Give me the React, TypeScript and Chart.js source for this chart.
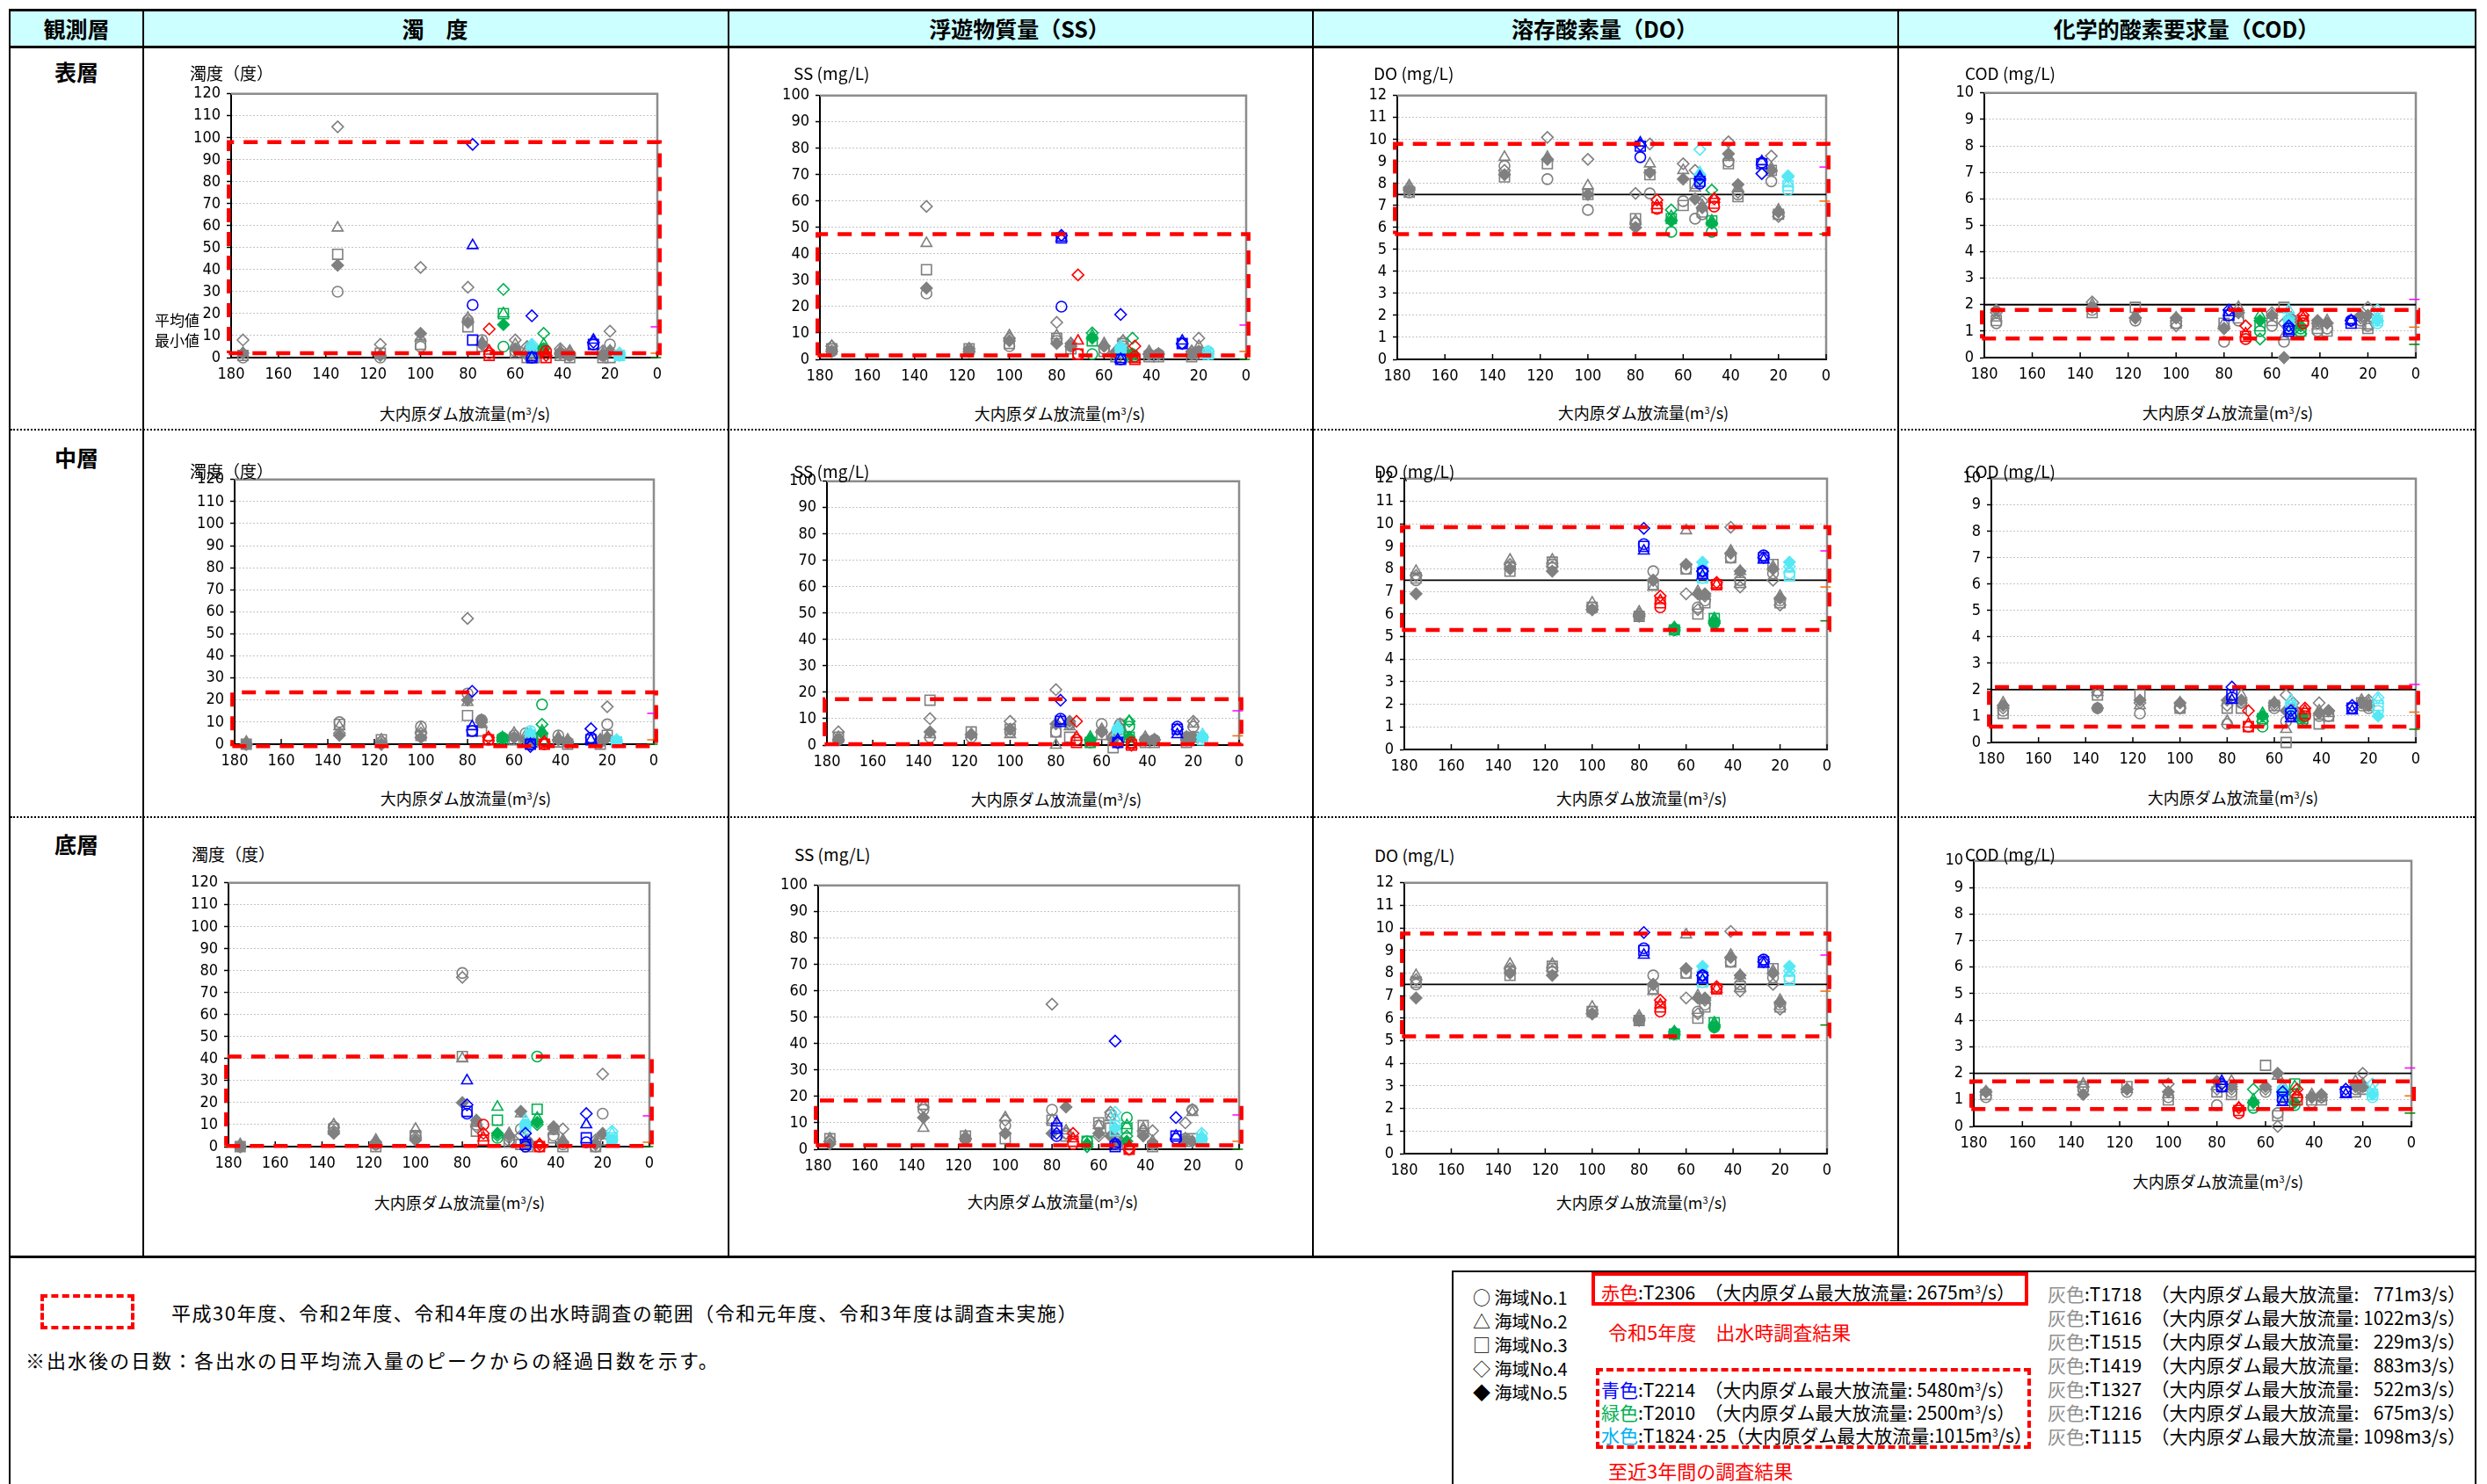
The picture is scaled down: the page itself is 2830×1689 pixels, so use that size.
import React, { useEffect, useRef } from 'react';
import { Chart, registerables } from 'chart.js';
Chart.register(...registerables);

// ---------------- data ----------------
// discharge (m3/s) of each survey day, per colour group
const GRAY_X = [175, 135, 117, 100, 80, 74, 60, 55, 52, 41, 37, 23, 20];
const BLUE_X = [78, 53, 27];
const RED_X = [71, 47];
const GREEN_X = [65, 48];
const CYAN_X = [53, 16];
const RANGE_X = [181, -1];
const STD_X = [180, 0];
const MARK_X = 0.6;

const STATIONS = ['海域No.1', '海域No.2', '海域No.3', '海域No.4', '海域No.5'];
const STATION_SYMBOLS = ['○', '△', '□', '◇', '◆'];

const DO_STD = 7.5;
const COD_STD = 2;

// rows: No.1 .. No.5 ; columns follow *_X arrays (null = not shown)
// ---- 表層 濁度
const S_TURB_GRAY = [
  [0, 30, 0, 5, 17, 8, 3, 2, 1, 2, 1, 1, 6],
  [2, 59, 1, 9, 18, 7, 6, 4, 2, 3, 3, 2, 3],
  [1, 47, 2, 6, 14, 5, 2, 0, 0, 1, 0, 0, 0],
  [8, 105, 6, 41, 32, 6, 8, 5, 3, 4, 2, 3, 12],
  [2, 42, 1, 11, 16, 6, 4, 1, 2, 2, 1, 1, 3],
];
const S_TURB_BLUE = [[24, 0, 6], [51, 0, 8], [8, 0, 6], [97, 19, 7], [null, null, null]];
const S_TURB_RED = [[2, 3], [3, 2], [1, 0], [13, 1], [null, null]];
const S_TURB_GREEN = [[5, 4], [20, 6], [20, 3], [31, 11], [15, 4]];
const S_TURB_CYAN = [[4, 1], [5, 1], [3, 1], [6, 2], [5, 1]];
const S_TURB_RANGE = [2, 98];
const S_TURB_MARKS = [14, 2, 0];

// ---- 表層 SS
const S_SS_GRAY = [
  [3, 25, 3, 5, 7, 5, 4, 2, 5, 2, 2, 2, 3],
  [5, 44, 4, 9, 9, 6, 6, 3, 7, 3, 2, 3, 5],
  [4, 34, 4, 6, 8, 4, 3, 1, 6, 1, 1, 1, 2],
  [5, 58, 4, 8, 14, 6, 5, 3, 7, 2, 2, 3, 8],
  [3, 27, 3, 7, 6, 5, 5, 2, 4, 2, 2, 2, 3],
];
const S_SS_BLUE = [[20, 0, 6], [46, 0, 7], [46, 0, 6], [47, 17, 6], [null, null, null]];
const S_SS_RED = [[2, 1], [7, 0], [2, 0], [32, 5], [null, null]];
const S_SS_GREEN = [[2, 2], [9, 1], [7, 1], [10, 8], [8, 2]];
const S_SS_CYAN = [[4, 3], [4, 2], [3, 2], [5, 3], [4, 2]];
const S_SS_RANGE = [1.5, 47.5];
const S_SS_MARKS = [13, 3, 0];

// ---- 表層 DO
const S_DO_GRAY = [
  [7.6, 8.8, 8.2, 6.8, 6.2, 7.55, 7.2, 6.4, 6.6, 9.0, 7.5, 8.1, 6.6],
  [7.9, 9.2, 9.2, 7.9, 6.3, 8.9, 8.6, 7.8, 7.0, 9.2, 7.8, 8.7, 6.8],
  [7.6, 8.3, 8.9, 7.5, 6.4, 8.4, 7.0, 8.0, 6.7, 8.9, 7.4, 8.6, 6.6],
  [7.8, 8.6, 10.1, 9.1, 7.55, 9.8, 8.9, 8.6, 7.2, 9.9, 7.6, 9.25, 6.5],
  [7.7, 8.4, 9.1, 7.5, 6.0, 8.5, 8.2, 7.3, 6.9, 9.35, 7.95, 8.6, 6.7],
];
const S_DO_BLUE = [[9.2, 8.0, 8.95], [9.85, 8.3, 9.0], [9.7, 8.1, 8.9], [9.75, 8.2, 8.45], [null, null, null]];
const S_DO_RED = [[6.85, 6.95], [7.0, 7.3], [6.9, 7.1], [7.25, 7.3], [null, null]];
const S_DO_GREEN = [[5.8, 5.8], [6.5, 6.3], [6.4, 6.3], [6.8, 7.7], [6.3, 6.2]];
const S_DO_CYAN = [[8.3, 7.7], [8.5, 8.0], [8.2, 7.9], [9.55, 8.35], [8.4, 8.3]];
const S_DO_RANGE = [5.7, 9.8];
const S_DO_MARKS = [8.75, 7.2, 5.7];

// ---- 表層 COD
const S_COD_GRAY = [
  [1.3, 1.8, 1.4, 1.3, 0.6, 1.4, 1.2, 0.6, 1.3, 1.0, 1.1, 1.4, 1.2],
  [1.5, 2.0, 1.6, 1.5, 1.3, 1.9, 1.6, 0.8, 1.5, 1.2, 1.4, 1.5, 1.2],
  [1.4, 1.7, 1.9, 1.3, 1.3, 1.5, 1.4, 1.9, 1.4, 1.1, 1.0, 1.3, 1.1],
  [1.7, 2.1, 1.5, 1.2, 1.1, 1.7, 1.7, 1.3, 1.4, 1.3, 1.3, 1.5, 1.9],
  [1.8, 1.9, 1.5, 1.5, 1.1, 1.7, 1.6, 0.0, 1.5, 1.4, 1.3, 1.6, 1.6],
];
const S_COD_BLUE = [[1.6, 1.1, 1.4], [1.7, 1.0, 1.4], [1.6, 1.0, 1.3], [1.8, 1.2, 1.4], [null, null, null]];
const S_COD_RED = [[0.7, 1.3], [0.9, 1.5], [0.8, 1.4], [1.2, 1.6], [null, null]];
const S_COD_GREEN = [[1.0, 1.1], [1.6, 1.2], [1.2, 1.0], [0.7, 0.9], [1.4, 1.2]];
const S_COD_CYAN = [[1.2, 1.3], [1.8, 1.5], [1.3, 1.4], [1.5, 1.8], [1.4, 1.4]];
const S_COD_RANGE = [0.72, 1.8];
const S_COD_MARKS = [2.2, 1.15, 0.5];

// ---- 中層 濁度
const M_TURB_GRAY = [
  [0, 10, 1, 8, 23, 11, 4, 5, 2, 4, 1, 1, 9],
  [1, 8, 2, 7, 19, 9, 5, 4, 3, 3, 2, 2, 3],
  [0, 9, 2, 4, 13, 6, 2, 1, 1, 1, 0, 0, 4],
  [0, 5, 0, 5, 57, 10, 3, 2, 2, 2, 1, 1, 17],
  [0, 4, 0, 3, 20, 11, 3, 2, 2, 2, 1, 2, 3],
];
const M_TURB_BLUE = [[6, 0, 3], [8, 0, 2], [6, 0, 2], [24, -1, 7], [null, null, null]];
const M_TURB_RED = [[2, 0], [3, 1], [2, 0], [3, 1], [null, null]];
const M_TURB_GREEN = [[3, 18], [3, 6], [2, 2], [2, 9], [3, 5]];
const M_TURB_CYAN = [[6, 1], [5, 1], [4, 1], [5, 2], [5, 1]];
const M_TURB_RANGE = [-0.9, 23.5];
const M_TURB_MARKS = [14, 2, 0];

// ---- 中層 SS
const M_SS_GRAY = [
  [2, 3, 3, 5, 5, 8, 8, 3, 8, 2, 2, 3, 7],
  [3, 4, 4, 4, 0, 7, 6, 4, 7, 3, 2, 3, 8],
  [3, 17, 5, 6, 5, 3, 4, -1, 6, 1, 1, 1, 3],
  [5, 10, 4, 9, 21, 8, 5, 3, 8, 2, 2, 2, 9],
  [2, 5, 4, 6, 8, 9, 5, 2, 6, 2, 2, 3, 3],
];
const M_SS_BLUE = [[10, 1, 7], [9, 2, 4], [9, 1, 6], [17, 1, 6], [null, null, null]];
const M_SS_RED = [[2, 1], [3, 0], [1, 0], [9, 0], [null, null]];
const M_SS_GREEN = [[1, 7], [3, 9], [1, 3], [2, 9], [2, 3]];
const M_SS_CYAN = [[6, 3], [7, 4], [5, 2], [6, 3], [6, 3]];
const M_SS_RANGE = [0.3, 17.4];
const M_SS_MARKS = [13, 3.5, 0];

// ---- 中層 DO
const M_DO_GRAY = [
  [7.5, 8.1, 8.2, 6.3, 5.9, 7.9, 8.0, 6.3, 6.6, 8.5, 7.5, 7.8, 6.6],
  [7.9, 8.4, 8.4, 6.5, 6.1, 7.2, 9.7, 7.0, 6.8, 8.8, 7.9, 8.1, 6.8],
  [7.6, 7.9, 8.3, 6.3, 5.9, 7.3, 8.0, 6.0, 6.5, 8.5, 7.4, 8.2, 6.5],
  [7.7, 8.2, 8.1, 6.2, 6.0, 7.5, 6.9, 6.2, 6.8, 9.85, 7.2, 7.5, 6.4],
  [6.9, 8.0, 7.9, 6.2, 5.9, 7.5, 8.2, 6.9, 6.9, 8.7, 7.9, 8.0, 6.7],
];
const M_DO_BLUE = [[9.1, 7.9, 8.6], [8.8, 7.7, 8.4], [9.0, 7.8, 8.5], [9.8, 7.9, 8.5], [null, null, null]];
const M_DO_RED = [[6.3, 7.3], [6.6, 7.3], [6.5, 7.3], [6.8, 7.4], [null, null]];
const M_DO_GREEN = [[5.3, 5.6], [5.4, 5.8], [5.3, 5.8], [5.3, 5.7], [5.4, 5.6]];
const M_DO_CYAN = [[7.6, 7.8], [8.2, 8.0], [7.6, 7.7], [7.9, 8.1], [8.3, 8.3]];
const M_DO_RANGE = [5.3, 9.85];
const M_DO_MARKS = [8.8, 7.2, 5.7];

// ---- 中層 COD
const M_COD_GRAY = [
  [1.2, 1.3, 1.1, 1.3, 0.7, 1.5, 1.3, 0.8, 1.1, 1.0, 1.0, 1.4, 1.3],
  [1.5, 1.9, 1.4, 1.5, 0.8, 1.8, 1.5, 0.5, 1.3, 1.2, 1.1, 1.6, 1.5],
  [1.1, 1.8, 1.8, 1.3, 1.3, 1.3, 1.4, 0.0, 1.0, 0.7, 1.0, 1.5, 1.4],
  [1.3, 1.9, 1.5, 1.3, 1.4, 1.5, 1.4, 1.8, 1.5, 1.5, 1.2, 1.5, 1.6],
  [1.4, 1.3, 1.6, 1.5, 1.6, 1.6, 1.5, 1.2, 1.3, 1.1, 1.2, 1.5, 1.4],
];
const M_COD_BLUE = [[1.7, 1.0, 1.3], [1.6, 0.9, 1.2], [1.8, 1.1, 1.3], [2.1, 1.2, 1.4], [null, null, null]];
const M_COD_RED = [[0.6, 1.0], [0.7, 1.2], [0.6, 1.1], [1.2, 1.3], [null, null]];
const M_COD_GREEN = [[0.6, 0.8], [1.1, 1.0], [0.9, 0.9], [0.8, 1.0], [1.0, 0.9]];
const M_COD_CYAN = [[1.3, 1.2], [1.6, 1.6], [1.4, 1.4], [1.4, 1.7], [1.2, 1.0]];
const M_COD_RANGE = [0.6, 2.1];
const M_COD_MARKS = [2.2, 1.15, 0.5];

// ---- 底層 濁度
const B_TURB_GRAY = [
  [0, 9, 1, 5, 79, 10, 3, 8, 2, 5, 1, 0, 15],
  [1, 10, 3, 8, 40, 11, 6, 15, 3, 7, 3, 2, 5],
  [0, 8, 0, 5, 41, 7, 2, 1, 0, 4, 0, 0, 3],
  [0, 7, 1, 4, 77, 9, 4, 5, 2, 8, 8, 3, 33],
  [0, 6, 2, 3, 20, 12, 5, 16, 1, 9, 2, 1, 6],
];
const B_TURB_BLUE = [[15, 0, 2], [30, 2, 10], [16, 1, 4], [19, 6, 15], [null, null, null]];
const B_TURB_RED = [[10, 0], [4, 1], [3, 0], [6, 1], [null, null]];
const B_TURB_GREEN = [[4, 41], [18, 13], [12, 17], [5, 10], [6, 11]];
const B_TURB_CYAN = [[10, 3], [12, 6], [8, 4], [9, 7], [10, 3]];
const B_TURB_RANGE = [0.3, 41];
const B_TURB_MARKS = [14, 2, 0];

// ---- 底層 SS
const B_SS_GRAY = [
  [3, 15, 4, 9, 15, 6, 9, 13, 3, 6, 2, 4, 15],
  [4, 8, 5, 12, 11, 7, 9, 12, 4, 8, 3, 4, 14],
  [4, 17, 5, 4, 11, 5, 10, 8, 2, 9, 1, 3, 4],
  [3, 16, 4, 11, 55, 6, 5, 14, 3, 7, 7, 10, 15],
  [2, 12, 4, 6, 6, 16, 6, 5, 2, 5, 2, 3, 3],
];
const B_SS_BLUE = [[5, 2, 4], [10, 2, 5], [8, 1, 5], [6, 41, 12], [null, null, null]];
const B_SS_RED = [[2, 0], [4, 1], [3, 0], [6, 0], [null, null]];
const B_SS_GREEN = [[3, 12], [2, 9], [3, 8], [1, 5], [2, 3]];
const B_SS_CYAN = [[9, 4], [12, 5], [7, 3], [14, 6], [8, 4]];
const B_SS_RANGE = [1.5, 18.5];
const B_SS_MARKS = [13, 3, 0];

// ---- 底層 DO
const B_DO_GRAY = [
  [7.5, 8.1, 8.2, 6.3, 5.9, 7.9, 8.0, 6.3, 6.6, 8.5, 7.5, 7.8, 6.6],
  [7.9, 8.4, 8.4, 6.5, 6.1, 7.2, 9.7, 7.0, 6.8, 8.8, 7.9, 8.1, 6.8],
  [7.6, 7.9, 8.3, 6.3, 5.9, 7.3, 8.0, 6.0, 6.5, 8.5, 7.4, 8.2, 6.5],
  [7.7, 8.2, 8.1, 6.2, 6.0, 7.5, 6.9, 6.2, 6.8, 9.85, 7.2, 7.5, 6.4],
  [6.9, 8.0, 7.9, 6.2, 5.9, 7.5, 8.2, 6.9, 6.9, 8.7, 7.9, 8.0, 6.7],
];
const B_DO_BLUE = [[9.1, 7.9, 8.6], [8.8, 7.7, 8.4], [9.0, 7.8, 8.5], [9.8, 7.9, 8.5], [null, null, null]];
const B_DO_RED = [[6.3, 7.3], [6.6, 7.3], [6.5, 7.3], [6.8, 7.4], [null, null]];
const B_DO_GREEN = [[5.3, 5.6], [5.4, 5.8], [5.3, 5.8], [5.3, 5.7], [5.4, 5.6]];
const B_DO_CYAN = [[7.6, 7.8], [8.2, 8.0], [7.6, 7.7], [7.9, 8.1], [8.3, 8.3]];
const B_DO_RANGE = [5.2, 9.75];
const B_DO_MARKS = [8.8, 7.2, 5.7];

// ---- 底層 COD
const B_COD_GRAY = [
  [1.1, 1.4, 1.3, 1.1, 0.8, 1.3, 1.3, 0.5, 1.1, 0.9, 1.1, 1.4, 1.5],
  [1.3, 1.6, 1.4, 1.2, 1.5, 1.7, 1.5, 1.9, 1.4, 1.2, 1.1, 1.7, 1.6],
  [1.2, 1.5, 1.5, 1.0, 1.3, 1.2, 2.3, 0.4, 1.2, 1.0, 1.0, 1.3, 1.4],
  [1.3, 1.5, 1.4, 1.6, 1.4, 1.4, 1.4, 0.0, 1.3, 1.1, 1.1, 1.5, 2.0],
  [1.3, 1.2, 1.4, 1.3, 1.7, 1.5, 1.5, 2.0, 1.3, 1.1, 1.2, 1.5, 1.5],
];
const B_COD_BLUE = [[1.5, 1.0, 1.3], [1.7, 0.9, 1.2], [1.5, 1.1, 1.3], [1.6, 1.3, 1.4], [null, null, null]];
const B_COD_RED = [[0.5, 1.1], [0.7, 1.2], [0.6, 1.0], [0.7, 1.4], [null, null]];
const B_COD_GREEN = [[0.7, 0.8], [1.0, 1.5], [0.8, 1.6], [1.4, 1.2], [0.9, 0.9]];
const B_COD_CYAN = [[1.4, 1.1], [1.5, 1.4], [1.3, 1.2], [1.3, 1.6], [1.2, 1.2]];
const B_COD_RANGE = [0.65, 1.7];
const B_COD_MARKS = [2.2, 1.15, 0.5];

// axis definitions
const TURB_AXIS = { max: 120, step: 10 };
const SS_AXIS = { max: 100, step: 10 };
const DO_AXIS = { max: 12, step: 1 };
const COD_AXIS = { max: 10, step: 1 };

const GRAY_EVENTS = [
  ['T1718', '771'], ['T1616', '1022'], ['T1515', '229'], ['T1419', '883'],
  ['T1327', '522'], ['T1216', '675'], ['T1115', '1098'],
];

// ---------------- styling ----------------
const JP = '"Noto Sans CJK JP", "Noto Sans", sans-serif';
const NARROW = '"Liberation Sans Narrow", "Arial Narrow", "DejaVu Sans Condensed", "Liberation Sans", sans-serif';
const C_GRAY = '#808080';
const C_BLUE = '#0000FF';
const C_RED = '#FF0000';
const C_GREEN = '#00B050';
const C_CYAN = '#55E8F5';
const MARK_COLORS = ['#FF00FF', '#FF6600', '#008000'];

const MARKERS = [
  { style: 'circle', r: 6, fill: false },
  { style: 'triangle', r: 7, fill: false },
  { style: 'rect', r: 8, fill: false },
  { style: 'rectRot', r: 6.5, fill: false },
  { style: 'rectRot', r: 6.5, fill: true },
];

const YW = 62, PT = 16, PR = 26, XH = 40;

type Spec = {
  gray: (number | null)[][]; blue: (number | null)[][]; red: (number | null)[][]; green: (number | null)[][]; cyan: (number | null)[][];
  range: number[]; marks: number[]; axis: { max: number; step: number }; std: number | null;
  yTitle: string; box: number[]; yt: number[]; xt: number[];
};

const PANELS: Spec[] = [
  { gray: S_TURB_GRAY, blue: S_TURB_BLUE, red: S_TURB_RED, green: S_TURB_GREEN, cyan: S_TURB_CYAN, range: S_TURB_RANGE, marks: S_TURB_MARKS, axis: TURB_AXIS, std: null, yTitle: '濁度（度）', box: [263, 105, 748, 407], yt: [216, 83], xt: [529, 470] },
  { gray: S_SS_GRAY, blue: S_SS_BLUE, red: S_SS_RED, green: S_SS_GREEN, cyan: S_SS_CYAN, range: S_SS_RANGE, marks: S_SS_MARKS, axis: SS_AXIS, std: null, yTitle: 'SS (mg/L)', box: [933, 107, 1418, 409], yt: [903, 83], xt: [1206, 470] },
  { gray: S_DO_GRAY, blue: S_DO_BLUE, red: S_DO_RED, green: S_DO_GREEN, cyan: S_DO_CYAN, range: S_DO_RANGE, marks: S_DO_MARKS, axis: DO_AXIS, std: DO_STD, yTitle: 'DO (mg/L)', box: [1590, 107, 2078, 409], yt: [1563, 83], xt: [1870, 469] },
  { gray: S_COD_GRAY, blue: S_COD_BLUE, red: S_COD_RED, green: S_COD_GREEN, cyan: S_COD_CYAN, range: S_COD_RANGE, marks: S_COD_MARKS, axis: COD_AXIS, std: COD_STD, yTitle: 'COD (mg/L)', box: [2258, 104, 2749, 407], yt: [2236, 83], xt: [2535, 469] },

  { gray: M_TURB_GRAY, blue: M_TURB_BLUE, red: M_TURB_RED, green: M_TURB_GREEN, cyan: M_TURB_CYAN, range: M_TURB_RANGE, marks: M_TURB_MARKS, axis: TURB_AXIS, std: null, yTitle: '濁度（度）', box: [267, 544, 744, 847], yt: [216, 536], xt: [530, 908] },
  { gray: M_SS_GRAY, blue: M_SS_BLUE, red: M_SS_RED, green: M_SS_GREEN, cyan: M_SS_CYAN, range: M_SS_RANGE, marks: M_SS_MARKS, axis: SS_AXIS, std: null, yTitle: 'SS (mg/L)', box: [941, 546, 1410, 848], yt: [903, 536], xt: [1202, 909] },
  { gray: M_DO_GRAY, blue: M_DO_BLUE, red: M_DO_RED, green: M_DO_GREEN, cyan: M_DO_CYAN, range: M_DO_RANGE, marks: M_DO_MARKS, axis: DO_AXIS, std: DO_STD, yTitle: 'DO (mg/L)', box: [1598, 543, 2079, 853], yt: [1564, 536], xt: [1868, 908] },
  { gray: M_COD_GRAY, blue: M_COD_BLUE, red: M_COD_RED, green: M_COD_GREEN, cyan: M_COD_CYAN, range: M_COD_RANGE, marks: M_COD_MARKS, axis: COD_AXIS, std: COD_STD, yTitle: 'COD (mg/L)', box: [2266, 543, 2749, 845], yt: [2236, 536], xt: [2541, 907] },

  { gray: B_TURB_GRAY, blue: B_TURB_BLUE, red: B_TURB_RED, green: B_TURB_GREEN, cyan: B_TURB_CYAN, range: B_TURB_RANGE, marks: B_TURB_MARKS, axis: TURB_AXIS, std: null, yTitle: '濁度（度）', box: [260, 1003, 739, 1305], yt: [218, 972], xt: [523, 1368] },
  { gray: B_SS_GRAY, blue: B_SS_BLUE, red: B_SS_RED, green: B_SS_GREEN, cyan: B_SS_CYAN, range: B_SS_RANGE, marks: B_SS_MARKS, axis: SS_AXIS, std: null, yTitle: 'SS (mg/L)', box: [931, 1006, 1410, 1308], yt: [904, 972], xt: [1198, 1367] },
  { gray: B_DO_GRAY, blue: B_DO_BLUE, red: B_DO_RED, green: B_DO_GREEN, cyan: B_DO_CYAN, range: B_DO_RANGE, marks: B_DO_MARKS, axis: DO_AXIS, std: DO_STD, yTitle: 'DO (mg/L)', box: [1598, 1003, 2079, 1313], yt: [1564, 973], xt: [1868, 1368] },
  { gray: B_COD_GRAY, blue: B_COD_BLUE, red: B_COD_RED, green: B_COD_GREEN, cyan: B_COD_CYAN, range: B_COD_RANGE, marks: B_COD_MARKS, axis: COD_AXIS, std: COD_STD, yTitle: 'COD (mg/L)', box: [2246, 978, 2744, 1282], yt: [2236, 972], xt: [2524, 1344] },
];

// ---------------- chart building ----------------
function scatterSet(xs: number[], ys: (number | null)[], color: string, k: number, order: number) {
  const m = MARKERS[k];
  const bg = m.fill ? color : 'rgba(0,0,0,0)';
  return {
    type: 'scatter',
    label: STATIONS[k],
    data: xs.map((x, i) => ({ x, y: ys[i] })).filter((d) => d.y !== null && d.y !== undefined),
    pointStyle: m.style,
    pointRadius: m.r,
    pointHoverRadius: m.r,
    pointBorderColor: color,
    pointBackgroundColor: bg,
    borderColor: color,
    backgroundColor: bg,
    pointBorderWidth: 1.6,
    showLine: false,
    clip: false,
    order,
  };
}

const framePlugin = {
  id: 'frame',
  beforeDatasetsDraw(chart: any) {
    const { ctx, chartArea: a, scales } = chart;
    ctx.save();
    ctx.strokeStyle = '#8C8C8C';
    ctx.lineWidth = 2.5;
    ctx.beginPath();
    ctx.moveTo(a.left, a.top);
    ctx.lineTo(a.right, a.top);
    ctx.lineTo(a.right, a.bottom);
    ctx.stroke();
    ctx.strokeStyle = '#000';
    ctx.lineWidth = 1.5;
    const xs = scales.x;
    xs.ticks.forEach((t: any) => {
      const px = xs.getPixelForValue(t.value);
      ctx.beginPath();
      ctx.moveTo(px, a.bottom);
      ctx.lineTo(px, a.bottom - 6);
      ctx.stroke();
    });
    ctx.restore();
  },
};

function buildConfig(p: Spec): any {
  const datasets: any[] = [];
  const groups: [number[], (number | null)[][], string, number][] = [
    [RED_X, p.red, C_RED, 1],
    [BLUE_X, p.blue, C_BLUE, 2],
    [GREEN_X, p.green, C_GREEN, 3],
    [CYAN_X, p.cyan, C_CYAN, 4],
    [GRAY_X, p.gray, C_GRAY, 5],
  ];
  datasets.push({
    type: 'line',
    label: 'range',
    data: [
      { x: RANGE_X[0], y: p.range[0] }, { x: RANGE_X[1], y: p.range[0] },
      { x: RANGE_X[1], y: p.range[1] }, { x: RANGE_X[0], y: p.range[1] },
      { x: RANGE_X[0], y: p.range[0] },
    ],
    borderColor: C_RED,
    borderWidth: 4.5,
    borderDash: [16, 11],
    pointRadius: 0,
    fill: false,
    tension: 0,
    clip: false,
    order: 0,
  });
  groups.forEach(([xs, rows, color, order]) => {
    rows.forEach((ys, k) => datasets.push(scatterSet(xs, ys, color, k, order)));
  });
  datasets.push({
    type: 'scatter',
    label: 'marks',
    data: p.marks.map((y) => ({ x: MARK_X, y })),
    pointStyle: 'line',
    pointRadius: 6,
    pointBorderColor: MARK_COLORS,
    pointBorderWidth: 1.5,
    showLine: false,
    clip: false,
    order: 6,
  });
  if (p.std !== null) {
    datasets.push({
      type: 'line',
      label: 'std',
      data: STD_X.map((x) => ({ x, y: p.std })),
      borderColor: '#000',
      borderWidth: 1.8,
      pointRadius: 0,
      fill: false,
      clip: false,
      order: 7,
    });
  }
  return {
    type: 'scatter',
    data: { datasets },
    plugins: [framePlugin],
    options: {
      animation: false,
      responsive: false,
      events: [],
      layout: { padding: { top: PT, right: PR, left: 0, bottom: 0 } },
      plugins: { legend: { display: false }, tooltip: { enabled: false } },
      scales: {
        x: {
          type: 'linear',
          min: 0,
          max: 180,
          reverse: true,
          afterFit: (s: any) => { s.height = XH; },
          ticks: { stepSize: 20, color: '#000', padding: 9, maxRotation: 0, font: { family: NARROW, size: 18 } },
          grid: { display: true, drawOnChartArea: false, drawTicks: false },
          border: { display: true, color: '#000', width: 2 },
        },
        y: {
          type: 'linear',
          min: 0,
          max: p.axis.max,
          afterFit: (s: any) => { s.width = YW; },
          ticks: { stepSize: p.axis.step, color: '#000', padding: 7, font: { family: NARROW, size: 18 } },
          grid: { color: '#C4C4C4', lineWidth: 1, tickColor: '#000', tickLength: 5, tickWidth: 1.5 },
          border: { display: true, color: '#000', width: 2, dash: [2, 2] },
        },
      },
    },
  };
}

function Panel({ spec }: { spec: Spec }) {
  const ref = useRef<HTMLCanvasElement>(null);
  useEffect(() => {
    const chart = new Chart(ref.current as HTMLCanvasElement, buildConfig(spec));
    return () => chart.destroy();
  }, [spec]);
  const [L, T, R, B] = spec.box;
  const w = R - L + YW + PR;
  const h = B - T + PT + XH;
  return (
    <>
      <canvas ref={ref} width={w} height={h}
        style={{ position: 'absolute', left: L - YW, top: T - PT, width: w, height: h }} />
      <div style={{ position: 'absolute', left: spec.yt[0], top: spec.yt[1] - 12, fontFamily: JP, fontSize: 19, lineHeight: '24px', whiteSpace: 'nowrap' }}>
        {spec.yTitle}
      </div>
      <div style={{ position: 'absolute', left: spec.xt[0] - 160, width: 320, top: spec.xt[1] - 12, textAlign: 'center', fontFamily: JP, fontSize: 18, lineHeight: '24px', whiteSpace: 'nowrap' }}>
        大内原ダム放流量(m<span style={{ fontSize: 11, position: 'relative', top: -6 }}>3</span>/s)
      </div>
    </>
  );
}

// ---------------- page ----------------
const abs = (l: number, t: number, w: number, h: number, extra: any = {}) => (
  <div style={{ position: 'absolute', left: l, top: t, width: w, height: h, ...extra }} />
);

function Txt({ l, cy, size, color = '#000', children, bold = false, spacing = 0 }: any) {
  return (
    <div style={{ position: 'absolute', left: l, top: cy - size * 0.6, fontFamily: JP, fontSize: size, lineHeight: `${size * 1.2}px`, color, whiteSpace: 'nowrap', fontWeight: bold ? 'bold' : 'normal', letterSpacing: spacing }}>
      {children}
    </div>
  );
}

function Ctr({ cx, cy, size, children }: any) {
  return (
    <div style={{ position: 'absolute', left: cx - 300, width: 600, top: cy - size * 0.6, textAlign: 'center', fontFamily: JP, fontSize: size, lineHeight: `${size * 1.2}px`, fontWeight: 'bold', whiteSpace: 'nowrap' }}>
      {children}
    </div>
  );
}

const Sup = () => <span style={{ fontSize: 12, position: 'relative', top: -7 }}>3</span>;

export default function App() {
  const HEAD = ['観測層', '濁　度', '浮遊物質量（SS）', '溶存酸素量（DO）', '化学的酸素要求量（COD）'];
  const HEAD_CX = [87, 495, 1160, 1826, 2488];
  const COL_X = [162, 828, 1493, 2159];
  const ROWS = [['表層', 81], ['中層', 520], ['底層', 960]];
  return (
    <div style={{ position: 'absolute', left: 0, top: 0, width: 2830, height: 1689, overflow: 'hidden', background: '#fff' }}>
      {abs(12, 13, 2804, 40, { background: '#CCFFFF' })}
      {abs(10, 10, 2808, 3, { background: '#000' })}
      {abs(10, 52, 2808, 3, { background: '#000' })}
      {abs(10, 10, 2, 1679, { background: '#000' })}
      {abs(2816, 10, 2, 1679, { background: '#000' })}
      {COL_X.map((x, i) => <React.Fragment key={i}>{abs(x, 10, 2, 1420, { background: '#000' })}</React.Fragment>)}
      {abs(12, 488, 2804, 0, { borderTop: '2px dotted #000' })}
      {abs(12, 929, 2804, 0, { borderTop: '2px dotted #000' })}
      {abs(10, 1429, 2808, 3, { background: '#000' })}

      {HEAD.map((t, i) => <Ctr key={t} cx={HEAD_CX[i]} cy={32} size={25}>{t}</Ctr>)}
      {ROWS.map(([t, y]) => <Ctr key={t as string} cx={87} cy={y as number} size={25}>{t}</Ctr>)}

      {PANELS.map((p, i) => <Panel key={i} spec={p} />)}

      <Txt l={176} cy={364} size={17}>平均値</Txt>
      <Txt l={176} cy={387} size={17}>最小値</Txt>

      {/* left legend */}
      {abs(46, 1473, 107, 40, { border: '4px dashed #FF0000', boxSizing: 'border-box' })}
      <Txt l={195} cy={1493} size={22} spacing={1.5}>平成30年度、令和2年度、令和4年度の出水時調査の範囲（令和元年度、令和3年度は調査未実施）</Txt>
      <Txt l={29} cy={1547} size={22} spacing={2}>※出水後の日数：各出水の日平均流入量のピークからの経過日数を示す。</Txt>

      {/* right legend */}
      {abs(1652, 1446, 1166, 260, { border: '2px solid #000', boxSizing: 'border-box' })}
      {STATIONS.map((s, i) => (
        <Txt key={s} l={1676} cy={1477 + 27 * i} size={20}>{STATION_SYMBOLS[i]} {s}</Txt>
      ))}
      {abs(1811, 1448, 497, 38, { border: '4px solid #FF0000', boxSizing: 'border-box' })}
      <Txt l={1822} cy={1471} size={21}><span style={{ color: C_RED }}>赤色</span>:T2306　（大内原ダム最大放流量: 2675m<Sup />/s）</Txt>
      <Txt l={1830} cy={1515} size={22} color={C_RED}>令和5年度　出水時調査結果</Txt>
      {abs(1816, 1557, 495, 92, { border: '4px dashed #FF0000', boxSizing: 'border-box' })}
      <Txt l={1822} cy={1582} size={21}><span style={{ color: C_BLUE }}>青色</span>:T2214　（大内原ダム最大放流量: 5480m<Sup />/s）</Txt>
      <Txt l={1822} cy={1608} size={21}><span style={{ color: C_GREEN }}>緑色</span>:T2010　（大内原ダム最大放流量: 2500m<Sup />/s）</Txt>
      <Txt l={1822} cy={1634} size={21}><span style={{ color: '#00B0F0' }}>水色</span>:T1824·25（大内原ダム最大放流量:1015m<Sup />/s）</Txt>
      <Txt l={1830} cy={1673} size={22} color={C_RED}>至近3年間の調査結果</Txt>
      {GRAY_EVENTS.map(([id, q], i) => (
        <Txt key={id} l={2330} cy={1473 + 27 * i} size={21}>
          <span style={{ color: '#909090' }}>灰色</span>:{id}　（大内原ダム最大放流量:{q.length === 3 ? '\u2007 ' : ' '}{q}m3/s）
        </Txt>
      ))}
    </div>
  );
}
